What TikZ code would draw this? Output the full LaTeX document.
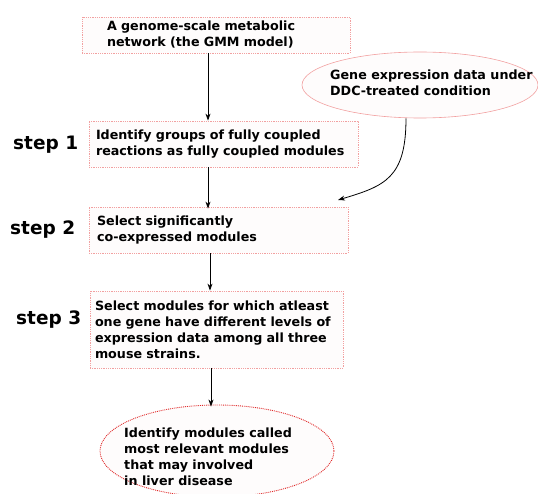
\documentclass[tikz,border=0pt]{standalone}
\usepackage{fontspec}
\setmainfont{DejaVu Sans}
\usetikzlibrary{shapes.geometric,arrows.meta}
\definecolor{boxline}{HTML}{F2A0A0}
\definecolor{ovalline}{HTML}{E02828}
\definecolor{boxfill}{HTML}{FEFCFC}
\tikzset{
  txt/.style={font=\bfseries\fontsize{12.7}{16}\selectfont, align=left},
  stepbox/.style={draw=boxline, densely dotted, line width=0.8pt, fill=boxfill,
    anchor=center, inner ysep=0pt, txt},
  steplabel/.style={font=\bfseries\fontsize{18.5}{20}\selectfont, anchor=west, inner sep=0pt},
  arr/.style={-{Stealth[length=7pt,width=5pt]}, line width=0.8pt, black},
}
\begin{document}
\begin{tikzpicture}[x=1pt,y=-1pt]
\useasboundingbox (0,0) rectangle (538,494);

% process boxes
\node[stepbox, inner xsep=25pt, text width=218pt, minimum height=36pt] (gmm) at (216,35)
  {A genome-scale metabolic\\network (the GMM model)};
\node[stepbox, inner xsep=7pt, text width=255pt, minimum height=46pt] (coupled) at (223.5,144)
  {Identify groups of fully coupled\\reactions as fully coupled modules};
\node[stepbox, inner xsep=8pt, text width=243pt, minimum height=46pt] (coexp) at (218.5,230)
  {Select significantly\\co-expressed modules};
\node[stepbox, inner xsep=5pt, text width=243pt, minimum height=77pt] (strains) at (216.5,329.5)
  {Select modules for which atleast\\one gene have different levels of\\expression data among all three\\mouse strains.};

% expression data oval
\node[ellipse, draw=boxline, line width=0.6pt, fill=boxfill, minimum width=236pt, minimum height=66pt] (expr) at (420,85) {};
\node[txt, anchor=west, inner sep=0pt] (exprtext) at (330,83) {Gene expression data under\\DDC-treated condition};

% result oval
\node[ellipse, draw=ovalline, densely dotted, line width=0.9pt, fill=boxfill, minimum width=234pt, minimum height=92pt] (result) at (217,451) {};
\node[txt, anchor=west, inner sep=0pt] (resulttext) at (124,457) {Identify modules called\\most relevant modules\\that may involved\\in liver disease};

% step labels
\node[steplabel] (s1) at (13,145) {step 1};
\node[steplabel] (s2) at (10,230) {step 2};
\node[steplabel] (s3) at (16,320) {step 3};

% connectors
\coordinate (xa) at (208,0);
\coordinate (xb) at (210,0);
\coordinate (xc) at (211,0);
\coordinate (ctip) at (338,200);
\coordinate (cstart) at (406,0);
\draw[arr] (gmm.south -| xa) -- (coupled.north -| xa);
\draw[arr] (coupled.south -| xa) -- ([yshift=-2pt]coexp.north -| xa);
\draw[arr] (coexp.south -| xb) -- (strains.north -| xb);
\draw[arr] (strains.south -| xc) -- ([yshift=-2pt]result.north -| xc);
\draw[arr] (expr.south -| cstart) .. controls (406,178) and (385,186) .. (ctip);
\end{tikzpicture}
\end{document}
